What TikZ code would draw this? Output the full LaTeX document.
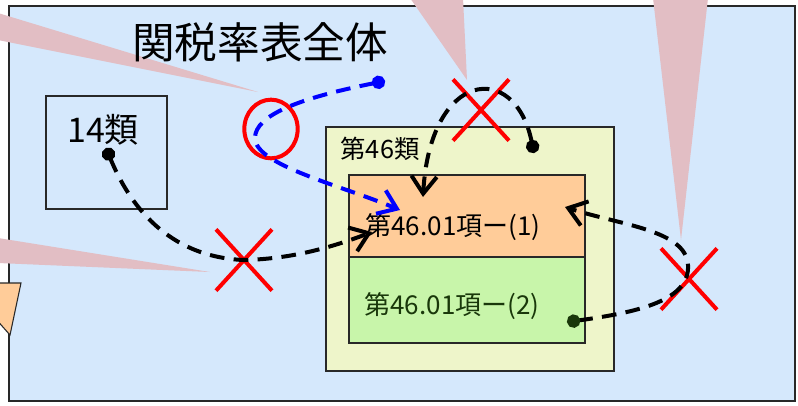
\documentclass[tikz,border=0pt]{standalone}
\usepackage{fontspec}
\newfontfamily\jp{Noto Sans CJK JP}
\usetikzlibrary{arrows.meta,shapes.geometric,shapes.misc}
\definecolor{skyfill}{RGB}{213,232,252}
\definecolor{chfill}{RGB}{238,245,202}
\definecolor{hdorange}{RGB}{255,204,153}
\definecolor{hdgreen}{RGB}{200,245,170}
\definecolor{wedgepink}{RGB}{226,190,196}
\definecolor{dkgreen}{RGB}{25,55,10}
\definecolor{frame}{RGB}{40,40,40}
\tikzset{
  box/.style={draw=frame, line width=1pt, inner sep=0pt},
  route/.style={line width=3pt, dash pattern=on 11pt off 7pt,
    {Circle[length=10pt]}-{Straight Barb[length=13pt,width=19pt]}},
  crossmark/.style={cross out, draw=red, line width=3pt, inner sep=0pt,
    minimum width=39pt, minimum height=43pt},
  wedge/.style={fill=wedgepink}
}
\begin{document}
\begin{tikzpicture}[x=0.75pt, y=-0.75pt]
\clip (0,0) rectangle (798,405);
\fill[white] (0,0) rectangle (798,405);
\draw[fill=skyfill, draw=frame, line width=1.1pt] (9,6) rectangle (795,401);
\fill[wedge] (-2,13) -- (258,92) -- (-2,40) -- cycle;
\fill[wedge] (410,-2) -- (467,80) -- (463,-2) -- cycle;
\fill[wedge] (653,-2) -- (681,240) -- (708,-2) -- cycle;
\fill[wedge] (-2,238) -- (210,272) -- (-2,263) -- cycle;
\draw[fill=hdorange, draw=frame, line width=0.8pt] (-5,283) -- (21,283) -- (10,335) -- (-5,318) -- cycle;
\node[font=\jp\fontsize{32}{36}\selectfont] (title) at (260,42) {関税率表全体};
\node[box, fill=none, minimum width=90.75pt, minimum height=84.75pt] (cls14) at (106.5,152.5) {};
\node[font=\jp\fontsize{25.5}{28}\selectfont] (cls14lbl) at (103,130) {14類};
\node[box, fill=chfill, minimum width=216pt, minimum height=183pt] (ch46) at (470,249) {};
\node[font=\jp\fontsize{19}{22}\selectfont] (ch46lbl) at (380,149) {第46類};
\node[box, fill=hdorange, minimum width=177pt, minimum height=61.5pt] (hd1) at (467,216) {};
\node[box, fill=hdgreen, minimum width=177pt, minimum height=64.5pt] (hd2) at (467,300) {};
\node[font=\jp\fontsize{19.5}{22}\selectfont] (hd1lbl) at (453,227) {第46.01項ー(1)};
\node[font=\jp\fontsize{19.5}{22}\selectfont, text=dkgreen] (hd2lbl) at (452,306) {第46.01項ー(2)};
\node[ellipse, draw=red, line width=3pt, inner sep=0pt, minimum width=40pt, minimum height=44pt] (ring) at (271,129) {};
\node[crossmark] (x1) at (244,260) {};
\node[crossmark] (x2) at (481,110) {};
\node[crossmark] (x3) at (689,279) {};
\coordinate (bstart) at (385,81);
\coordinate (bend) at (400,210);
\coordinate (kstart) at (106,148);
\coordinate (kend) at (372,232);
\coordinate (tstart) at (534,153);
\coordinate (tend) at (423,197);
\coordinate (gstart) at (567,322);
\coordinate (gend) at (565,207);
\draw[route, blue] (bstart) .. controls (300,98) and (255,115) .. (255,138)
  .. controls (255,165) and (340,185) .. (bend);
\draw[route] (kstart) .. controls (140,230) and (190,258) .. (x1.center)
  .. controls (290,259) and (330,248) .. (kend);
\draw[route] (tstart) .. controls (515,60) and (430,70) .. (tend);
\draw[route, {Circle[length=10pt,color=dkgreen]}-{Straight Barb[length=13pt,width=19pt]}]
  (gstart) .. controls (640,312) and (690,300) .. (688,265)
  .. controls (686,230) and (620,225) .. (gend);
\end{tikzpicture}
\end{document}
